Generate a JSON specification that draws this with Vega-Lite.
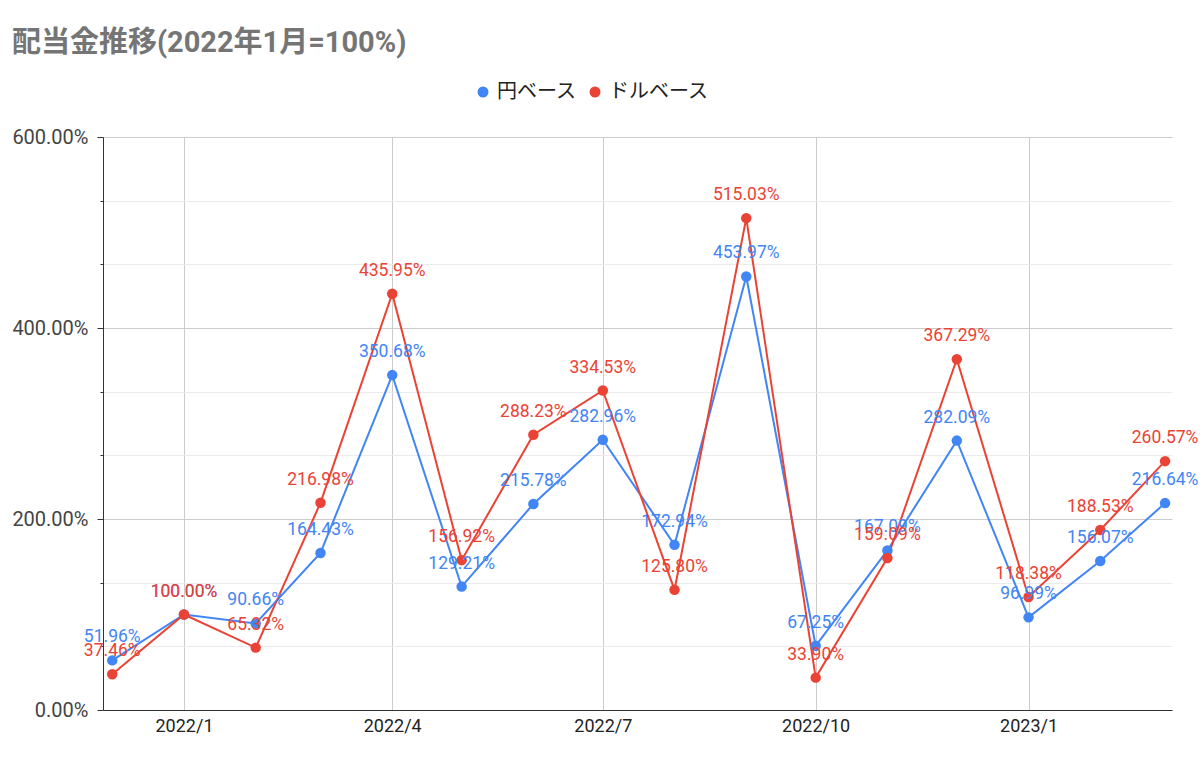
{
  "$schema": "https://vega.github.io/schema/vega-lite/v6.json",
  "width": 1069,
  "height": 573,
  "autosize": "none",
  "padding": {"left": 103, "top": 137, "right": 28, "bottom": 49},
  "background": "#ffffff",
  "title": {
    "text": "配当金推移(2022年1月=100%)",
    "anchor": "start",
    "frame": "bounds",
    "font": "Roboto, Noto Sans CJK JP",
    "fontSize": 29,
    "fontWeight": "bold",
    "color": "#757575",
    "offset": 24
  },
  "config": {
    "view": {"stroke": null},
    "font": "Roboto, Noto Sans CJK JP"
  },
  "data": {
    "values": [
      {"m": "2021-12-01", "s": "円ベース", "v": 0.5196},
      {"m": "2022-01-01", "s": "円ベース", "v": 1.0},
      {"m": "2022-02-01", "s": "円ベース", "v": 0.9066},
      {"m": "2022-03-01", "s": "円ベース", "v": 1.6443},
      {"m": "2022-04-01", "s": "円ベース", "v": 3.5068},
      {"m": "2022-05-01", "s": "円ベース", "v": 1.2921},
      {"m": "2022-06-01", "s": "円ベース", "v": 2.1578},
      {"m": "2022-07-01", "s": "円ベース", "v": 2.8296},
      {"m": "2022-08-01", "s": "円ベース", "v": 1.7294},
      {"m": "2022-09-01", "s": "円ベース", "v": 4.5397},
      {"m": "2022-10-01", "s": "円ベース", "v": 0.6725},
      {"m": "2022-11-01", "s": "円ベース", "v": 1.6709},
      {"m": "2022-12-01", "s": "円ベース", "v": 2.8209},
      {"m": "2023-01-01", "s": "円ベース", "v": 0.9699},
      {"m": "2023-02-01", "s": "円ベース", "v": 1.5607},
      {"m": "2023-03-01", "s": "円ベース", "v": 2.1664},
      {"m": "2021-12-01", "s": "ドルベース", "v": 0.3746},
      {"m": "2022-01-01", "s": "ドルベース", "v": 1.0},
      {"m": "2022-02-01", "s": "ドルベース", "v": 0.6532},
      {"m": "2022-03-01", "s": "ドルベース", "v": 2.1698},
      {"m": "2022-04-01", "s": "ドルベース", "v": 4.3595},
      {"m": "2022-05-01", "s": "ドルベース", "v": 1.5692},
      {"m": "2022-06-01", "s": "ドルベース", "v": 2.8823},
      {"m": "2022-07-01", "s": "ドルベース", "v": 3.3453},
      {"m": "2022-08-01", "s": "ドルベース", "v": 1.258},
      {"m": "2022-09-01", "s": "ドルベース", "v": 5.1503},
      {"m": "2022-10-01", "s": "ドルベース", "v": 0.339},
      {"m": "2022-11-01", "s": "ドルベース", "v": 1.5909},
      {"m": "2022-12-01", "s": "ドルベース", "v": 3.6729},
      {"m": "2023-01-01", "s": "ドルベース", "v": 1.1838},
      {"m": "2023-02-01", "s": "ドルベース", "v": 1.8853},
      {"m": "2023-03-01", "s": "ドルベース", "v": 2.6057}
    ]
  },
  "encoding": {
    "x": {
      "field": "m",
      "type": "temporal",
      "scale": {
        "type": "utc",
        "domain": [
          {"year": 2021, "month": 11, "date": 27, "utc": true},
          {"year": 2023, "month": 3, "date": 4, "utc": true}
        ]
      },
      "axis": {
        "title": null,
        "values": [
          {"year": 2022, "month": 1, "date": 1, "utc": true},
          {"year": 2022, "month": 4, "date": 1, "utc": true},
          {"year": 2022, "month": 7, "date": 1, "utc": true},
          {"year": 2022, "month": 10, "date": 1, "utc": true},
          {"year": 2023, "month": 1, "date": 1, "utc": true}
        ],
        "labelExpr": "utcFormat(datum.value, '%Y/%-m')",
        "ticks": false,
        "labelPadding": 7,
        "labelFontSize": 18,
        "labelColor": "#222222",
        "gridColor": "#cccccc",
        "domainColor": "#333333",
        "labelFlush": false
      }
    },
    "y": {
      "field": "v",
      "type": "quantitative",
      "scale": {"domain": [0, 6], "nice": false},
      "axis": {
        "title": null,
        "values": [0, 0.6667, 1.3333, 2, 2.6667, 3.3333, 4, 4.6667, 5.3333, 6],
        "format": ".2%",
        "labelExpr": "abs(datum.value - round(datum.value / 2) * 2) < 0.001 ? datum.label : ''",
        "labelFontSize": 20,
        "labelColor": "#444444",
        "labelPadding": 9,
        "domainColor": "#333333",
        "tickColor": "#333333",
        "tickSize": {
          "condition": {"test": "abs(datum.value - round(datum.value / 2) * 2) < 0.001", "value": 6},
          "value": 3
        },
        "gridColor": {
          "condition": {"test": "abs(datum.value - round(datum.value / 2) * 2) < 0.001", "value": "#cccccc"},
          "value": "#ebebeb"
        }
      }
    },
    "color": {
      "field": "s",
      "type": "nominal",
      "scale": {"domain": ["円ベース", "ドルベース"], "range": ["#4285f4", "#ea4335"]},
      "legend": {
        "title": null,
        "orient": "none",
        "direction": "horizontal",
        "legendX": 370,
        "legendY": -55,
        "padding": 0,
        "symbolType": "circle",
        "symbolSize": 90,
        "labelFontSize": 20,
        "labelColor": "#222222",
        "labelOffset": 4,
        "columnPadding": 8
      }
    }
  },
  "layer": [
    {"mark": {"type": "line", "strokeWidth": 2}},
    {"mark": {"type": "point", "filled": true, "opacity": 1, "size": 110}},
    {
      "transform": [
        {"filter": "!(datum.s === '円ベース' && datum.m === '2022-01-01')"}
      ],
      "mark": {"type": "text", "dy": -23, "fontSize": 17.5},
      "encoding": {
        "text": {"field": "v", "type": "quantitative", "format": ".2%"}
      }
    }
  ]
}
